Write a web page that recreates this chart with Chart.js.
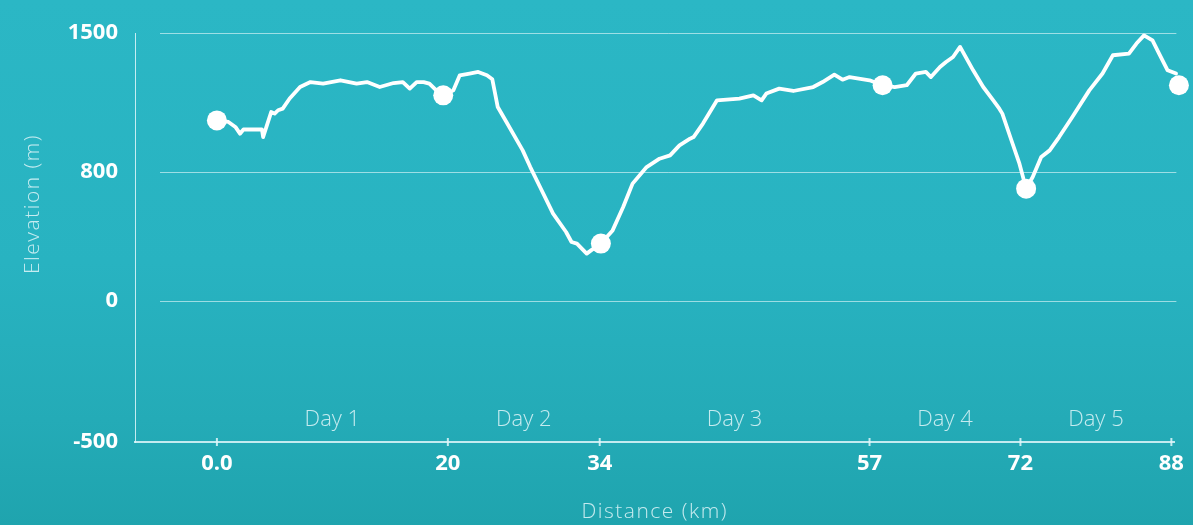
<!DOCTYPE html>
<html><head><meta charset="utf-8">
<script src="https://cdn.jsdelivr.net/npm/chart.js@4/dist/chart.umd.min.js"></script>
<style>html,body{margin:0;padding:0;background:#29b4c1;} #wrap{width:1193px;height:525px;position:relative;}</style>
</head><body><div id="wrap"><canvas id="c"></canvas></div>
<script>
// ---- data ----
const distanceKm = [0, 1.0, 1.6, 2.0, 2.3, 3.9, 4.0, 4.7, 5.0, 5.3,
  5.7, 6.3, 7.2, 8.1, 9.2, 10.7, 12.1, 13.0, 14.1, 15.3,
  16.1, 16.7, 17.3, 17.9, 18.4, 19.0, 19.6, 20.5, 21.1, 22.0,
  22.8, 23.6, 24.1, 24.6, 25.4, 26.9, 27.6, 28.5, 29.7, 30.9,
  31.4, 31.9, 32.8, 33.2, 34.1, 35.1, 36.0, 36.8, 38.0, 39.1,
  40.0, 40.8, 41.7, 42.0, 42.8, 44.0, 45.9, 47.1, 47.8, 48.2,
  49.3, 50.5, 52.2, 53.0, 54.0, 54.7, 55.3, 57.0, 58.3, 59.5,
  60.7, 61.6, 62.6, 63.1, 64.0, 64.6, 65.3, 66.0, 67.3, 68.3,
  69.3, 69.9, 70.2, 71.1, 71.9, 72.6, 73.3, 74.2, 75.1, 76.1,
  77.5, 79.3, 80.7, 81.8, 83.5, 84.3, 85.1, 86.0, 86.7, 87.6,
  88.5, 88.8];
const elevationM = [1060, 1052, 1027, 993, 1014, 1014, 976, 1102, 1094, 1111,
  1119, 1170, 1228, 1253, 1245, 1262, 1245, 1253, 1228, 1248,
  1253, 1220, 1253, 1253, 1245, 1211, 1186, 1211, 1287, 1296,
  1304, 1287, 1267, 1127, 1052, 909, 825, 707, 542, 428,
  366, 356, 294, 314, 356, 438, 583, 728, 825, 867,
  884, 934, 968, 976, 1044, 1161, 1170, 1186, 1161, 1195,
  1220, 1208, 1228, 1253, 1290, 1265, 1278, 1262, 1237, 1228,
  1237, 1296, 1304, 1278, 1329, 1354, 1379, 1430, 1312, 1228,
  1161, 1119, 1094, 960, 842, 697, 769, 876, 909, 976,
  1077, 1211, 1296, 1388, 1396, 1447, 1488, 1463, 1396, 1312,
  1296, 1237];
const stopKm = [0, 19.6, 34.1, 58.3, 72.6, 88.8];
const stopElevationM = [1060, 1186, 356, 1237, 697, 1237];
const xTickValues = [0, 20, 34, 57, 72, 88];
const xTickLabels = ['0.0', '20', '34', '57', '72', '88'];
const yTickValues = [-500, 0, 800, 1500];
const yTickLabels = ['-500', '0', '800', '1500'];
const dayBoundsKm = [0, 20, 34, 57, 72, 88];
const dayLabels = ['Day 1', 'Day 2', 'Day 3', 'Day 4', 'Day 5'];

// ---- scale layout: piecewise axis spacing as in the original ----
const scaleMaps = {
  x: { values: xTickValues, fracs: [0.0788, 0.3010, 0.4471, 0.7067, 0.8519, 0.9971] },
  y: { values: yTickValues, fracs: [0, 0.3447, 0.6601, 1] }
};
function interp(v, xs, ys) {
  let i = 0;
  if (v <= xs[0]) i = 0;
  else if (v >= xs[xs.length - 1]) i = xs.length - 2;
  else { while (v > xs[i + 1]) i++; }
  const t = (v - xs[i]) / (xs[i + 1] - xs[i]);
  return ys[i] + t * (ys[i + 1] - ys[i]);
}
class PiecewiseScale extends Chart.LinearScale {
  getPixelForValue(value) {
    const m = scaleMaps[this.id];
    const f = interp(value, m.values, m.fracs);
    return this.isHorizontal() ? this.left + f * this.width : this.bottom - f * this.height;
  }
  getValueForPixel(pixel) {
    const m = scaleMaps[this.id];
    const f = this.isHorizontal() ? (pixel - this.left) / this.width : (this.bottom - pixel) / this.height;
    return interp(f, m.fracs, m.values);
  }
}
PiecewiseScale.id = 'piecewise';
PiecewiseScale.defaults = {};
Chart.register(PiecewiseScale);

const lightLine = 'rgba(225,247,250,0.85)';
const softText = 'rgba(220,244,247,0.88)';

const decor = {
  id: 'decor',
  beforeDraw(chart) {
    const { ctx, width, height } = chart;
    const g = ctx.createLinearGradient(0, 0, 0, height);
    g.addColorStop(0, '#2bb7c5');
    g.addColorStop(0.5, '#28b3c1');
    g.addColorStop(0.8, '#24abb7');
    g.addColorStop(1, '#1fa4ae');
    ctx.save();
    ctx.fillStyle = g;
    ctx.fillRect(0, 0, width, height);
    ctx.restore();
  },
  beforeDatasetsDraw(chart) {
    const { ctx, chartArea, scales } = chart;
    ctx.save();
    // horizontal gridlines
    ctx.strokeStyle = 'rgba(235,250,252,0.6)';
    ctx.lineWidth = 1;
    yTickValues.forEach(v => {
      if (v === scales.y.min) return;
      const y = Math.round(scales.y.getPixelForValue(v)) + 0.5;
      ctx.beginPath();
      ctx.moveTo(chartArea.left + 25, y);
      ctx.lineTo(chartArea.right + 2, y);
      ctx.stroke();
    });
    // x tick marks crossing the axis line
    ctx.strokeStyle = lightLine;
    ctx.lineWidth = 2;
    xTickValues.forEach(v => {
      const x = scales.x.getPixelForValue(v);
      ctx.beginPath();
      ctx.moveTo(x, chartArea.bottom - 4);
      ctx.lineTo(x, chartArea.bottom + 4);
      ctx.stroke();
    });
    // day labels centred within each day's span
    ctx.fillStyle = softText;
    ctx.font = '300 22px "Open Sans", Lato, sans-serif';
    ctx.textAlign = 'center';
    ctx.textBaseline = 'middle';
    dayLabels.forEach((t, i) => {
      const x = scales.x.getPixelForValue((dayBoundsKm[i] + dayBoundsKm[i + 1]) / 2);
      ctx.fillText(t, x, chartArea.bottom - 22);
    });
    // axis titles
    ctx.font = '300 21px "Open Sans", Lato, sans-serif';
    try { ctx.letterSpacing = '1.5px'; } catch (e) {}
    ctx.fillText('Distance (km)', (chartArea.left + chartArea.right) / 2, 512);
    ctx.translate(33, 204);
    ctx.rotate(-Math.PI / 2);
    ctx.fillText('Elevation (m)', 0, 0);
    ctx.restore();
  }
};

new Chart(document.getElementById('c'), {
  type: 'line',
  data: {
    datasets: [
      {
        label: 'Stops',
        data: stopKm.map((x, i) => ({ x, y: stopElevationM[i] })),
        showLine: false,
        pointRadius: 10,
        pointBackgroundColor: '#ffffff',
        pointBorderWidth: 0,
        clip: false,
        order: 0
      },
      {
        label: 'Elevation',
        data: distanceKm.map((x, i) => ({ x, y: elevationM[i] })),
        borderColor: '#ffffff',
        borderWidth: 3.8,
        borderJoinStyle: 'round',
        borderCapStyle: 'round',
        pointRadius: 0,
        tension: 0,
        fill: false,
        clip: false,
        order: 1
      }
    ]
  },
  options: {
    responsive: true,
    maintainAspectRatio: false,
    animation: false,
    layout: { padding: { top: 33, right: 18, left: 0, bottom: 0 } },
    plugins: { legend: { display: false }, tooltip: { enabled: false } },
    scales: {
      x: {
        type: 'piecewise',
        position: 'bottom',
        min: 0,
        max: 88,
        afterBuildTicks: s => { s.ticks = xTickValues.map(v => ({ value: v })); },
        afterFit: s => { s.height = 83; },
        grid: { display: false, drawTicks: false },
        border: { display: true, color: lightLine, width: 2 },
        ticks: {
          autoSkip: false, maxRotation: 0, padding: 9,
          color: '#ffffff',
          font: { family: '"Open Sans", Lato, sans-serif', weight: 'bold', size: 22 },
          callback: v => xTickLabels[xTickValues.indexOf(v)]
        }
      },
      y: {
        type: 'piecewise',
        position: 'left',
        min: -500,
        max: 1500,
        afterBuildTicks: s => { s.ticks = yTickValues.map(v => ({ value: v })); },
        afterFit: s => { s.width = 135; },
        grid: { display: false, drawTicks: false },
        border: { display: true, color: lightLine, width: 1 },
        ticks: {
          autoSkip: false, padding: 17,
          color: '#ffffff',
          font: { family: '"Open Sans", Lato, sans-serif', weight: 'bold', size: 22 },
          callback: v => yTickLabels[yTickValues.indexOf(v)]
        }
      }
    }
  },
  plugins: [decor]
});
</script>
</body></html>
